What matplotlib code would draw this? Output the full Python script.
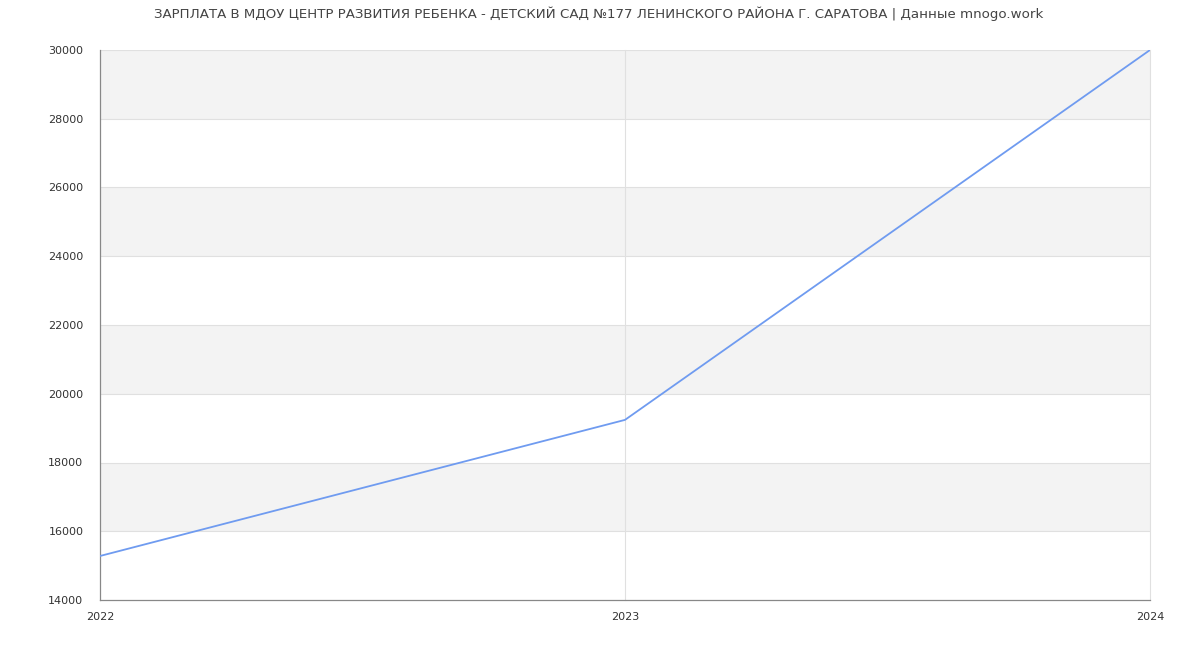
import matplotlib
matplotlib.use("Agg")
import matplotlib.pyplot as plt

years = [2022, 2023, 2024]
salary = [15280, 19240, 30000]
yticks = list(range(14000, 30001, 2000))
title = "ЗАРПЛАТА В МДОУ ЦЕНТР РАЗВИТИЯ РЕБЕНКА - ДЕТСКИЙ САД №177 ЛЕНИНСКОГО РАЙОНА Г. САРАТОВА | Данные mnogo.work"

plt.rcParams['font.family'] = ['DejaVu Sans']
fig = plt.figure(figsize=(12, 6.5), dpi=100)
ax = fig.add_axes([100/1200, 50/650, 1050/1200, 550/650])

for i, lo in enumerate(yticks[:-1]):
    if i % 2 == 1:
        ax.axhspan(lo, lo + 2000, color='#f3f3f3', zorder=0, lw=0)
for y in yticks[1:]:
    ax.axhline(y, color='#e0e0e0', lw=0.8, zorder=1)
for x in years[1:]:
    ax.axvline(x, color='#e0e0e0', lw=0.8, zorder=1, clip_on=False)

ax.plot(years, salary, color='#6f9bf0', lw=1.3, zorder=3)

ax.set_xlim(2022, 2024)
ax.set_ylim(14000, 30000)
ax.set_xticks(years)
ax.set_xticklabels([str(y) for y in years])
ax.set_yticks(yticks)
ax.tick_params(axis='both', length=0, labelsize=8, colors='#333333')
ax.tick_params(axis='x', pad=9)
ax.tick_params(axis='y', pad=12)
for s in ['top', 'right']:
    ax.spines[s].set_visible(False)
for s in ['left', 'bottom']:
    ax.spines[s].set_color('#888888')
    ax.spines[s].set_linewidth(0.9)

fig.text(0.4985, 1 - 14/650, title, ha='center', va='center', fontsize=9.65, color='#444444')
fig.savefig('out.png', dpi=100)
